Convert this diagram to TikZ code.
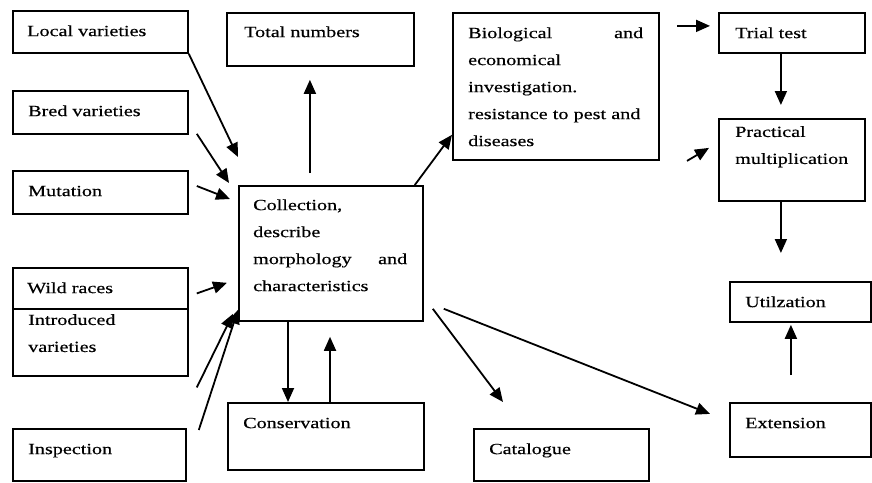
\documentclass[tikz,border=0pt]{standalone}
\usepackage{fontspec}
\setmainfont[FakeStretch=1.3,FakeBold=0.4]{Liberation Serif}
\usetikzlibrary{calc,arrows.meta}
\tikzset{
  box/.style={draw, line width=1.8pt, anchor=north west, inner sep=0pt},
  lbl/.style={anchor=north west, inner sep=0pt, align=left,
    font=\fontsize{15.5}{27}\selectfont, execute at begin node=\strut},
  arr/.style={line width=1.8pt, -{Triangle[length=14pt,width=12pt]}},
}
\begin{document}
\begin{tikzpicture}[x=1pt,y=-1pt]
\useasboundingbox[fill=white] (0,0) rectangle (872,482);
% boxes
\node[box, minimum width=175pt, minimum height=42pt] (local) at (12,10) {};
\node[box, minimum width=175pt, minimum height=43pt] (bred) at (12,90) {};
\node[box, minimum width=175pt, minimum height=43pt] (mut) at (12,170) {};
\node[box, minimum width=175pt, minimum height=41pt] (wild) at (12,267) {};
\node[box, minimum width=175pt, minimum height=67pt] (intro) at (12,308) {};
\node[box, minimum width=173pt, minimum height=52pt] (insp) at (12,428) {};
\node[box, minimum width=187pt, minimum height=53pt] (total) at (226,12) {};
\node[box, minimum width=184pt, minimum height=135pt] (coll) at (238,185) {};
\node[box, minimum width=196pt, minimum height=67pt] (cons) at (227,402) {};
\node[box, minimum width=206pt, minimum height=147pt] (bio) at (452,12) {};
\node[box, minimum width=175pt, minimum height=52pt] (cat) at (473,428) {};
\node[box, minimum width=146pt, minimum height=40pt] (trial) at (718,12) {};
\node[box, minimum width=146pt, minimum height=82pt] (prac) at (718,118) {};
\node[box, minimum width=141pt, minimum height=40pt] (util) at (729,281) {};
\node[box, minimum width=141pt, minimum height=54pt] (ext) at (729,402) {};
% labels
\node[lbl] (local-t) at ($(local.north west)+(15,7)$) {Local varieties};
\node[lbl] (bred-t) at ($(bred.north west)+(16,7)$) {Bred varieties};
\node[lbl] (mut-t) at ($(mut.north west)+(16,7)$) {Mutation};
\node[lbl] (wild-t) at ($(wild.north west)+(15,7)$) {Wild races};
\node[lbl] (intro-t) at ($(intro.north west)+(16,6)$) {Introduced\\varieties};
\node[lbl] (insp-t) at ($(insp.north west)+(16,7)$) {Inspection};
\node[lbl] (total-t) at ($(total.north west)+(18,6)$) {Total numbers};
\node[lbl, text width=154pt] (coll-t) at ($(coll.north west)+(15,6)$)
  {Collection,\\describe\\morphology\hfill and\\characteristics};
\node[lbl] (cons-t) at ($(cons.north west)+(16,7)$) {Conservation};
\node[lbl, text width=175pt] (bio-t) at ($(bio.north west)+(16,7)$)
  {Biological\hfill and\\economical\\investigation.\\resistance to pest and\\diseases};
\node[lbl] (cat-t) at ($(cat.north west)+(16,7)$) {Catalogue};
\node[lbl] (trial-t) at ($(trial.north west)+(17,7)$) {Trial test};
\node[lbl] (prac-t) at ($(prac.north west)+(17,8)$) {Practical\\multiplication};
\node[lbl] (util-t) at ($(util.north west)+(16,7)$) {Utilzation};
\node[lbl] (ext-t) at ($(ext.north west)+(16,7)$) {Extension};
% free arrow ends
\coordinate (tin) at ($(trial.west)+(-41,-7)$);
\coordinate (pin) at ($(prac.west)+(-31,1)$);
% connectors
\draw[arr] (local.south east) -- ($(coll.north west)+(0,-28)$);
\draw[arr] ($(bred.south east)+(8,-1)$) -- ($(coll.north west)+(-9,-2)$);
\draw[arr] ($(mut.north east)+(8,16)$) -- ($(coll.north west)+(-8,14)$);
\draw[arr] ($(wild.east)+(8,5)$) -- ($(coll.south west)+(-11,-39)$);
\draw[arr] ($(intro.east)+(8,45)$) -- ($(coll.south west)+(-5,-8)$);
\draw[arr] ($(insp.north east)+(12,2)$) -- ($(coll.south west)+(0,-12)$);
\draw[arr] ($(coll.north)+(-21,-12)$) -- ($(total.south)+(-10.5,13)$);
\draw[arr] ($(coll.north east)+(-9,0)$) -- ($(bio.south west)+(0,-26)$);
\draw[arr] ($(coll.south west)+(50,0)$) -- ($(cons.north west)+(61,0)$);
\draw[arr] ($(cons.north west)+(103,0)$) -- ($(coll.south west)+(92,15)$);
\draw[arr] ($(coll.south east)+(9,-13)$) -- ($(cat.north west)+(30,-26)$);
\draw[arr] ($(coll.south east)+(20,-13)$) -- ($(ext.west)+(-19,-16)$);
\draw[arr] (tin) -- ($(trial.west)+(-8,-7)$);
\draw[arr] ($(trial.south)+(-11,0)$) -- ($(prac.north)+(-11,-13)$);
\draw[arr] (pin) -- ($(prac.west)+(-9,-12)$);
\draw[arr] ($(prac.south)+(-11,0)$) -- ($(util.north)+(-19.5,-28)$);
\draw[arr] ($(ext.north)+(-9.5,-27)$) -- ($(util.south)+(-9.5,2)$);
\end{tikzpicture}
\end{document}
